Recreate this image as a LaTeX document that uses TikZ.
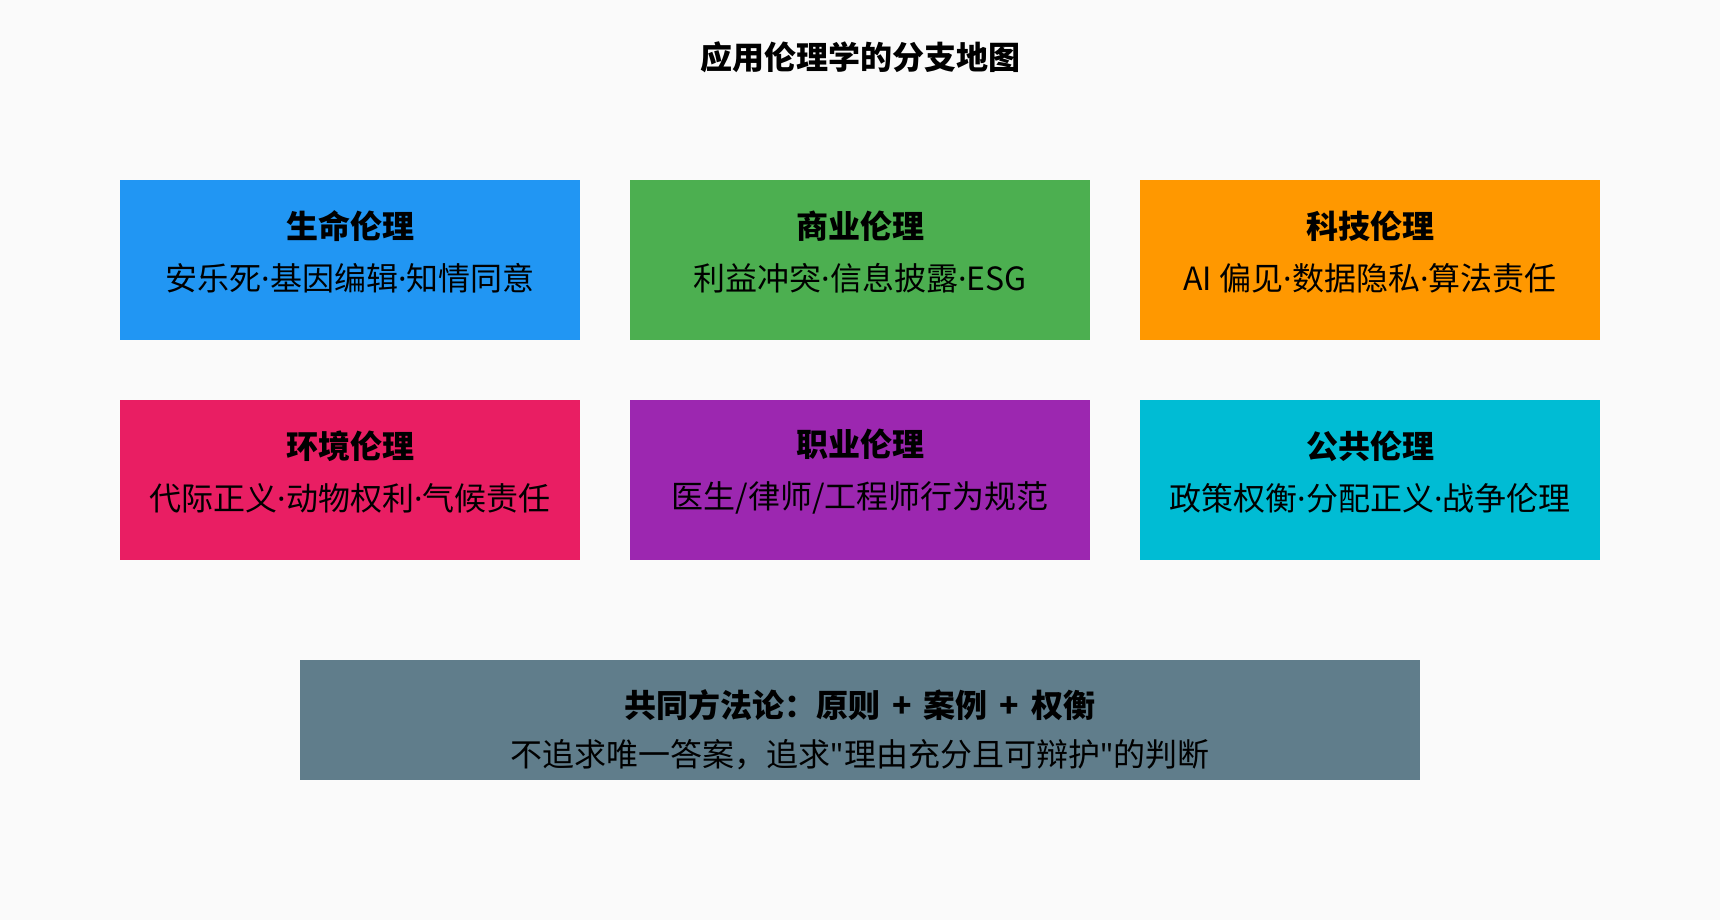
\documentclass[tikz,border=0pt]{standalone}
\usepackage{fontspec}
\setmainfont{Noto Sans CJK SC}
\newfontfamily\latinfont{Noto Sans}
\usetikzlibrary{positioning}

\definecolor{paperbg}{HTML}{FAFAFA}
\definecolor{lifeblue}{HTML}{2196F3}
\definecolor{bizgreen}{HTML}{4CAF50}
\definecolor{techorange}{HTML}{FF9800}
\definecolor{envpink}{HTML}{E91E63}
\definecolor{profpurple}{HTML}{9C27B0}
\definecolor{pubcyan}{HTML}{00BCD4}
\definecolor{methodgrey}{HTML}{607D8B}

\newcommand{\sepdot}{{\latinfont ·}}
\newcommand{\plainquote}{{\latinfont "}}
\newcommand{\wideplus}{\hspace{6pt}+\hspace{6pt}}

\begin{document}
\begin{tikzpicture}[x=0.5pt, y=-0.5pt, node distance=30pt and 25pt,
	branch/.style={rectangle, inner sep=0pt, outer sep=0pt, minimum width=230pt, minimum height=80pt,
		text height=31.8pt, align=center, font=\fontsize{16pt}{26pt}\selectfont},
	method/.style={rectangle, inner sep=0pt, outer sep=0pt, minimum width=560pt, minimum height=60pt,
		text height=48.6pt, align=center, font=\fontsize{16pt}{24.5pt}\selectfont}]
	\fill[paperbg] (0,0) rectangle (1720,920);
	\useasboundingbox (0,0) rectangle (1720,920);

	\node [font=\bfseries\fontsize{16pt}{20pt}\selectfont] (title) at (860,57) {应用伦理学的分支地图};

	\node [branch, fill=lifeblue] (life) at (350,260) {\textbf{生命伦理}\\安乐死\sepdot 基因编辑\sepdot 知情同意};
	\node [branch, fill=bizgreen, right =of life] (biz) {\textbf{商业伦理}\\利益冲突\sepdot 信息披露\sepdot ESG};
	\node [branch, fill=techorange, right =of biz] (tech) {\textbf{科技伦理}\\AI 偏见\sepdot 数据隐私\sepdot 算法责任};
	\node [branch, fill=envpink, below =of life] (env) {\textbf{环境伦理}\\代际正义\sepdot 动物权利\sepdot 气候责任};
	\node [branch, fill=profpurple, right =of env] (prof) {\textbf{职业伦理}\\医生/律师/工程师行为规范};
	\node [branch, fill=pubcyan, right =of prof] (pub) {\textbf{公共伦理}\\政策权衡\sepdot 分配正义\sepdot 战争伦理};

	\node [method, fill=methodgrey, below =50pt of prof] (method) {\textbf{共同方法论：原则\wideplus 案例\wideplus 权衡}\\不追求唯一答案，追求\plainquote 理由充分且可辩护\plainquote 的判断};

\end{tikzpicture}
\end{document}
